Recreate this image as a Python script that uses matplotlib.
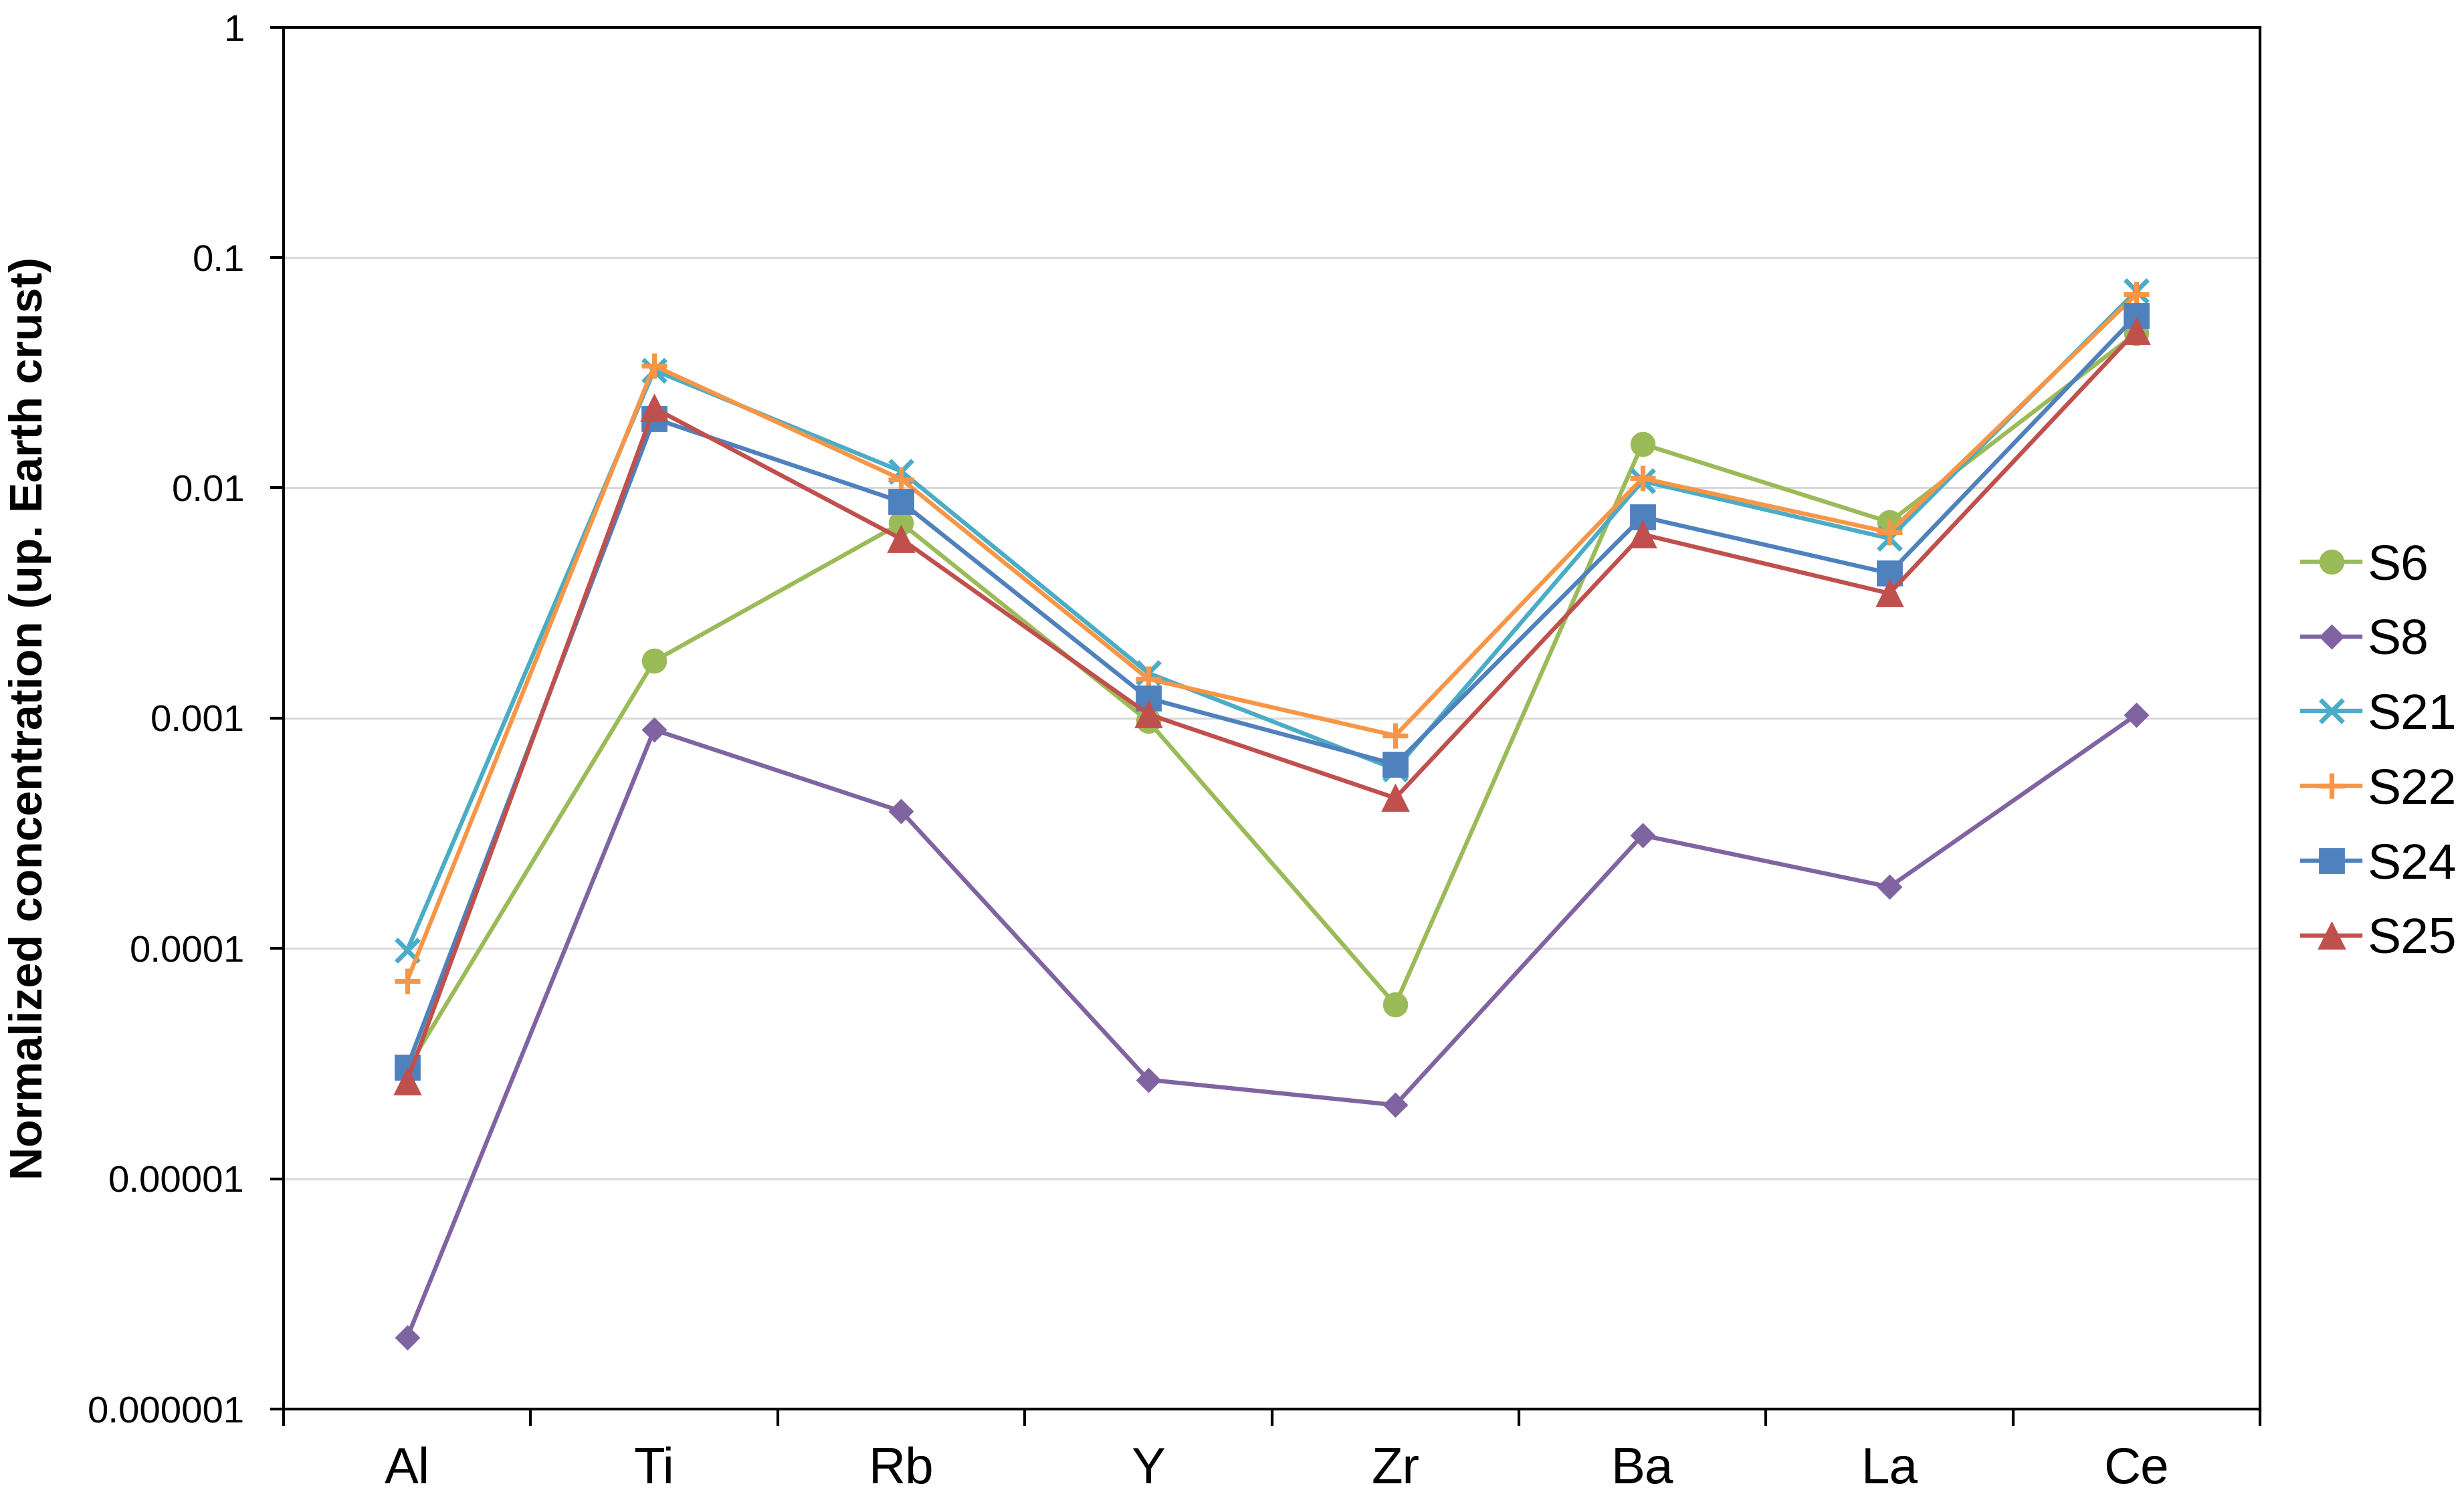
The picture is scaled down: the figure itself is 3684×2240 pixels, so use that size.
import matplotlib
matplotlib.use("Agg")
import matplotlib.pyplot as plt
from matplotlib.ticker import FixedLocator, FuncFormatter, NullFormatter
import numpy as np

plt.rcParams['font.family'] = ['Liberation Sans', 'DejaVu Sans']

elements = ["Al", "Ti", "Rb", "Y", "Zr", "Ba", "La", "Ce"]

S6 = [3.0e-5, 0.00177, 0.00703, 0.00097, 5.7e-5, 0.0155, 0.0071, 0.047]
S8 = [2.04e-6, 0.00089, 3.94e-4, 2.69e-5, 2.09e-5, 3.10e-4, 1.85e-4, 1.035e-3]
S21 = [9.8e-5, 0.0324, 0.0118, 0.00157, 0.0006, 0.0107, 0.00603, 0.0716]
S22 = [7.24e-5, 0.0339, 0.0109, 0.00148, 0.00084, 0.0110, 0.00641, 0.0693]
S24 = [3.05e-5, 0.020, 0.0087, 0.00122, 0.00063, 0.00748, 0.00426, 0.0561]
S25 = [2.65e-5, 0.0222, 0.0060, 0.00104, 0.00045, 0.00628, 0.00348, 0.0481]

series_names = ["S6", "S8", "S21", "S22", "S24", "S25"]
series_vals = [S6, S8, S21, S22, S24, S25]
y_ticks = [1e-6, 1e-5, 1e-4, 1e-3, 1e-2, 1e-1, 1]
y_tick_labels = ["0.000001", "0.00001", "0.0001", "0.001", "0.01", "0.1", "1"]

colors = ["#9BBB59", "#8064A2", "#4BACC6", "#F79646", "#4F81BD", "#C0504D"]
markers = ["o", "D", "x", "+", "s", "^"]
msizes = [12.5, 8.6, 12.0, 13.5, 13.0, 13.5]
mews = [1.0, 1.0, 2.5, 2.6, 1.0, 1.0]

fig = plt.figure(figsize=(18.42, 11.2), dpi=200)
ax = fig.add_axes([424/3684, 1-2107/2240, (3379-424)/3684, (2107-40.7)/2240])

x = np.arange(len(elements))
for name, vals, c, m, ms, mew in zip(series_names, series_vals, colors, markers, msizes, mews):
    ax.plot(x, vals, color=c, lw=2.3, marker=m, markersize=ms,
            markeredgewidth=mew, markerfacecolor=c, markeredgecolor=c,
            label=name, solid_joinstyle='round', clip_on=False)

ax.set_yscale('log')
ax.set_ylim(1e-6, 1)
ax.set_xlim(-0.5, len(elements) - 0.5)

ax.yaxis.set_major_locator(FixedLocator(y_ticks))
ax.yaxis.set_major_formatter(FuncFormatter(
    lambda v, p: y_tick_labels[int(np.argmin([abs(np.log10(t) - np.log10(v)) for t in y_ticks]))]))
ax.yaxis.set_minor_locator(FixedLocator([]))
ax.yaxis.set_minor_formatter(NullFormatter())

ax.set_xticks(x)
ax.set_xticklabels(elements)
ax.set_xticks(np.arange(-0.5, len(elements) + 0.5, 1.0), minor=True)
ax.tick_params(axis='x', which='major', length=0, pad=20, labelsize=27.5)
ax.tick_params(axis='x', which='minor', length=9, width=1.5, direction='out')
ax.tick_params(axis='y', which='major', length=7.2, width=1.5, direction='out', pad=13.7, labelsize=20.3)

ax.grid(axis='y', which='major', color='#D9D9D9', lw=1.1)
ax.set_axisbelow(True)
for s in ax.spines.values():
    s.set_linewidth(1.5)
    s.set_color('black')

fig.text(45/3684, 1-1074/2240, "Normalized concentration (up. Earth crust)",
         rotation=90, ha='center', va='center', fontsize=24.5, fontweight='bold')

leg = fig.legend(loc='center left', bbox_to_anchor=(3442/3684, 1-1126/2240),
                 frameon=False, fontsize=27, handlelength=1.16, handletextpad=0.14,
                 labelspacing=0.57, borderpad=0, borderaxespad=0)

fig.savefig("out.png", dpi=200)
